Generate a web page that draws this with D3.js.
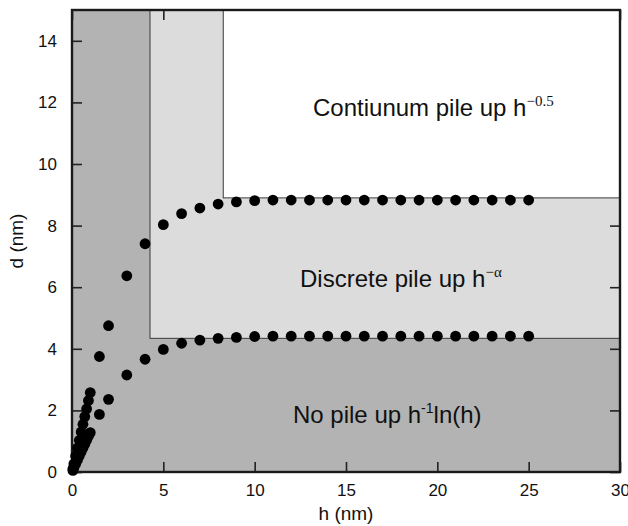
<!DOCTYPE html>
<html><head><meta charset="utf-8">
<script src="https://cdn.jsdelivr.net/npm/d3@7"></script>
<style>body{margin:0;background:#fff}svg{display:block}</style>
</head><body>
<script>
// ---- data ----
const upperH = [0.05,0.1,0.2,0.3,0.4,0.5,0.6,0.7,0.8,0.9,1.0,1.5,2,3,4,5,6,7,8,9,10,11,12,13,14,15,16,17,18,19,20,21,22,23,24,25];
const upperD = [0.1,0.26,0.52,0.78,1.03,1.3,1.55,1.8,2.05,2.32,2.58,3.75,4.75,6.37,7.41,8.03,8.39,8.57,8.70,8.77,8.81,8.83,8.83,8.83,8.83,8.83,8.83,8.83,8.83,8.83,8.83,8.83,8.83,8.83,8.83,8.83];
const lowerH = [0.05,0.1,0.2,0.3,0.4,0.5,0.6,0.7,0.8,0.9,1.0,1.5,2,3,4,5,6,7,8,9,10,11,12,13,14,15,16,17,18,19,20,21,22,23,24,25];
const lowerD = [0.05,0.13,0.26,0.39,0.52,0.65,0.78,0.9,1.03,1.16,1.28,1.87,2.36,3.15,3.66,3.98,4.18,4.28,4.34,4.37,4.40,4.41,4.41,4.41,4.41,4.41,4.41,4.41,4.41,4.41,4.41,4.41,4.41,4.41,4.41,4.41];
const xTicks = [0,5,10,15,20,25,30];
const yTicks = [0,2,4,6,8,10,12,14];
// regime boundaries (data units)
const discreteCorner = [4.27, 4.34];
const continuumCorner = [8.28, 8.90];

const W = 628, H = 526;
const L = 72, R = 620, T = 10, B = 472;
const x = d3.scaleLinear().domain([0,30]).range([L,R]);
const y = d3.scaleLinear().domain([0,15]).range([B,T]);

const svg = d3.select("body").append("svg").attr("width",W).attr("height",H);
const font = "'Liberation Sans', Arial, Helvetica, sans-serif";

// backgrounds
svg.append("rect").attr("x",x(0)).attr("y",y(15)).attr("width",x(30)-x(0)).attr("height",y(0)-y(15)).attr("fill","#b3b3b3");
svg.append("rect").attr("x",x(discreteCorner[0])).attr("y",y(15)).attr("width",x(30)-x(discreteCorner[0])).attr("height",y(discreteCorner[1])-y(15))
  .attr("fill","#dcdcdc").attr("stroke","#3a3a3a").attr("stroke-width",1);

// axes with inward ticks
const tickLen = 10;
const axB = svg.append("g").attr("transform",`translate(0,${B})`).call(d3.axisBottom(x).tickValues(xTicks).tickSize(-tickLen).tickPadding(12).tickFormat(d3.format("d")));
const axT = svg.append("g").attr("transform",`translate(0,${T})`).call(d3.axisTop(x).tickValues(xTicks).tickSize(-tickLen).tickFormat(""));
const axL = svg.append("g").attr("transform",`translate(${L},0)`).call(d3.axisLeft(y).tickValues(yTicks).tickSize(-tickLen).tickPadding(15).tickFormat(d3.format("d")));
const axR = svg.append("g").attr("transform",`translate(${R},0)`).call(d3.axisRight(y).tickValues(yTicks).tickSize(-tickLen).tickFormat(""));
[axB,axT,axL,axR].forEach(a=>{
  a.select(".domain").remove();
  a.selectAll(".tick line").attr("stroke","#222").attr("stroke-width",1.6);
  a.selectAll(".tick text").attr("font-family",font).attr("font-size",17).attr("fill","#111");
});

// continuum region drawn over the ticks
svg.append("rect").attr("x",x(continuumCorner[0])).attr("y",y(15)).attr("width",x(30)-x(continuumCorner[0])).attr("height",y(continuumCorner[1])-y(15))
  .attr("fill","#ffffff").attr("stroke","#3a3a3a").attr("stroke-width",1);

// frame
svg.append("rect").attr("x",L).attr("y",T).attr("width",R-L).attr("height",B-T)
  .attr("fill","none").attr("stroke","#1a1a1a").attr("stroke-width",2.4);

// points
const pts = upperH.map((h,i)=>[h,upperD[i]]).concat(lowerH.map((h,i)=>[h,lowerD[i]]));
svg.append("g").selectAll("circle").data(pts).join("circle")
  .attr("cx",d=>x(d[0])).attr("cy",d=>y(d[1])).attr("r",5.4).attr("fill","#000");

// region labels
function label(xp, yp, main, sup, supFont, supSize, tail){
  const t = svg.append("text").attr("x",xp).attr("y",yp).attr("font-family",font).attr("font-size",24).attr("fill","#111");
  t.append("tspan").text(main);
  t.append("tspan").attr("font-family",supFont).attr("font-size",supSize).attr("dy",-10).text(sup);
  if (tail) t.append("tspan").attr("dy",10).text(tail);
}
label(313,116,"Contiunum pile up h","\u22120.5","'Liberation Serif', 'Times New Roman', serif",15);
label(300,287,"Discrete pile up h","\u2212\u03b1","'Liberation Serif', 'Times New Roman', serif",15);
label(293,422.5,"No pile up h","-1",font,14,"ln(h)");

// axis titles
svg.append("text").attr("x",(L+R)/2).attr("y",520).attr("text-anchor","middle")
  .attr("font-family",font).attr("font-size",19).attr("fill","#111").text("h (nm)");
svg.append("text").attr("transform",`translate(23,241) rotate(-90)`).attr("text-anchor","middle")
  .attr("font-family",font).attr("font-size",19).attr("fill","#111").text("d (nm)");
</script>
</body></html>
